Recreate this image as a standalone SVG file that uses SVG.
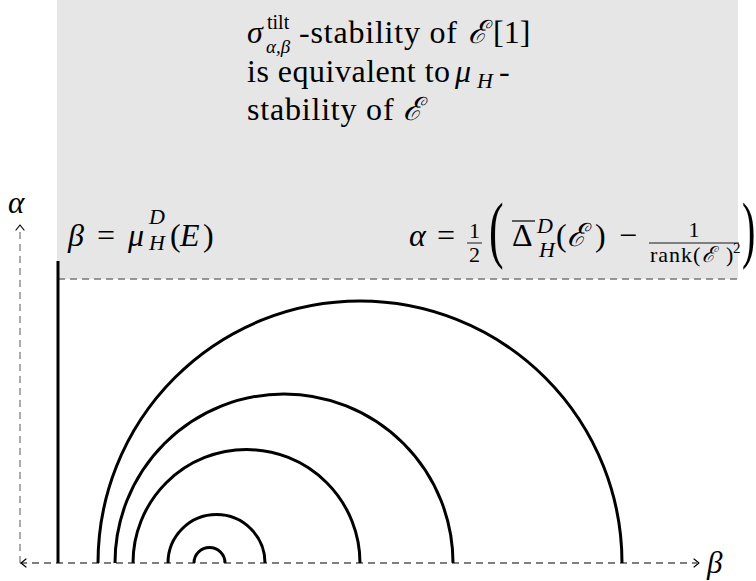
<svg xmlns="http://www.w3.org/2000/svg" width="756" height="581" viewBox="0 0 756 581">
<defs>
<style>
text{font-family:'Liberation Serif','DejaVu Serif',serif;fill:#000}
.i{font-style:italic}
.ax{stroke:#000;stroke-width:1.2;fill:none;stroke-dasharray:7 5}
.arc{stroke:#000;stroke-width:3;fill:none}
.ah{stroke:#000;stroke-width:1.2;fill:none;stroke-linecap:round;stroke-linejoin:round}
.bar{stroke:#000;stroke-width:0.9}
</style>
</defs>
<rect x="57" y="0" width="681" height="279" fill="#e6e6e6"/>
<g id="region-text">
<text font-size="32" x="247" y="43"><tspan class="i">σ</tspan><tspan font-size="20" x="267" y="29">tilt</tspan><tspan font-size="19" class="i" x="266" y="53">α,β</tspan><tspan x="299" y="43" letter-spacing="0.8">-stability of</tspan><tspan class="i" x="468">ℰ</tspan><tspan x="493">[1]</tspan></text>
<text font-size="32" x="247" y="82"><tspan letter-spacing="0.5">is equivalent to</tspan><tspan class="i" x="455">μ</tspan><tspan class="i" font-size="22" x="477" y="88">H</tspan><tspan x="499" y="82">-</tspan></text>
<text font-size="32" x="247" y="120"><tspan letter-spacing="0.8">stability of</tspan><tspan class="i" x="403">ℰ</tspan></text>
</g>
<g id="label-beta">
<text font-size="32" x="68" y="246" class="i">β</text>
<text font-size="32" x="97" y="246">=</text>
<text font-size="32" x="128" y="246" class="i">μ</text>
<text font-size="22" x="149" y="224" class="i">D</text>
<text font-size="22" x="149" y="250" class="i">H</text>
<text font-size="32" x="170" y="246">(</text>
<text font-size="32" x="180" y="246" class="i">E</text>
<text font-size="32" x="203" y="246">)</text>
</g>
<g id="label-alpha">
<text font-size="32" x="409" y="246" class="i">α</text>
<text font-size="32" x="437" y="246">=</text>
<text font-size="22" x="474.5" y="238" text-anchor="middle">1</text>
<line class="bar" x1="467" y1="243" x2="482" y2="243"/>
<text font-size="22" x="474.5" y="262" text-anchor="middle">2</text>
<text font-size="73" x="0" y="0" transform="translate(489 254) scale(0.6 1)">(</text>
<line x1="512" y1="221" x2="535" y2="221" stroke="#000" stroke-width="1.2"/>
<text font-size="32" x="512" y="246">Δ</text>
<text font-size="22" x="537" y="233" class="i">D</text>
<text font-size="22" x="539" y="257" class="i">H</text>
<text font-size="32" x="556" y="246">(</text>
<text font-size="32" x="567" y="246" class="i">ℰ</text>
<text font-size="32" x="595" y="246">)</text>
<text font-size="32" x="619" y="246">−</text>
<text font-size="22" x="694" y="237" text-anchor="middle">1</text>
<line class="bar" x1="649" y1="243" x2="739" y2="243"/>
<text font-size="22" x="650" y="262" letter-spacing="1">rank(</text>
<text font-size="22" x="702" y="262" class="i">ℰ</text>
<text font-size="22" x="726" y="262">)</text>
<text font-size="15" x="733" y="253">2</text>
<text font-size="73" x="0" y="0" transform="translate(742 254) scale(0.55 1)">)</text>
</g>
<g id="connectors">
<line class="ax" x1="20" y1="563" x2="697" y2="563"/>
<path class="ah" d="M26 559 L21 563 L26 567"/>
<path class="ah" d="M694 559 L699 563 L694 567"/>
<line x1="20" y1="563" x2="20" y2="228" stroke="#777" stroke-width="1.2" stroke-dasharray="7 5"/>
<path class="ah" d="M16 230 L20 225 L24 230"/>
<line x1="58" y1="279" x2="738" y2="279" stroke="#777" stroke-width="1.5" stroke-dasharray="7 5"/>
<line x1="58" y1="261" x2="58" y2="563" stroke="#000" stroke-width="3"/>
</g>
<g id="arcs">
<path class="arc" d="M194 563 A15.5 15.5 0 0 1 225 563"/>
<path class="arc" d="M168 563 A48.5 48.5 0 0 1 265 563"/>
<path class="arc" d="M133 563 A113.5 113.5 0 0 1 360 563"/>
<path class="arc" d="M115 563 A169 169 0 0 1 453 563"/>
<path class="arc" d="M98 563 A262 262 0 0 1 622 563"/>
</g>
<g id="axis-labels">
<text class="i" font-size="31" x="8" y="213">α</text>
<text class="i" font-size="31" x="707" y="573">β</text>
</g>
</svg>
